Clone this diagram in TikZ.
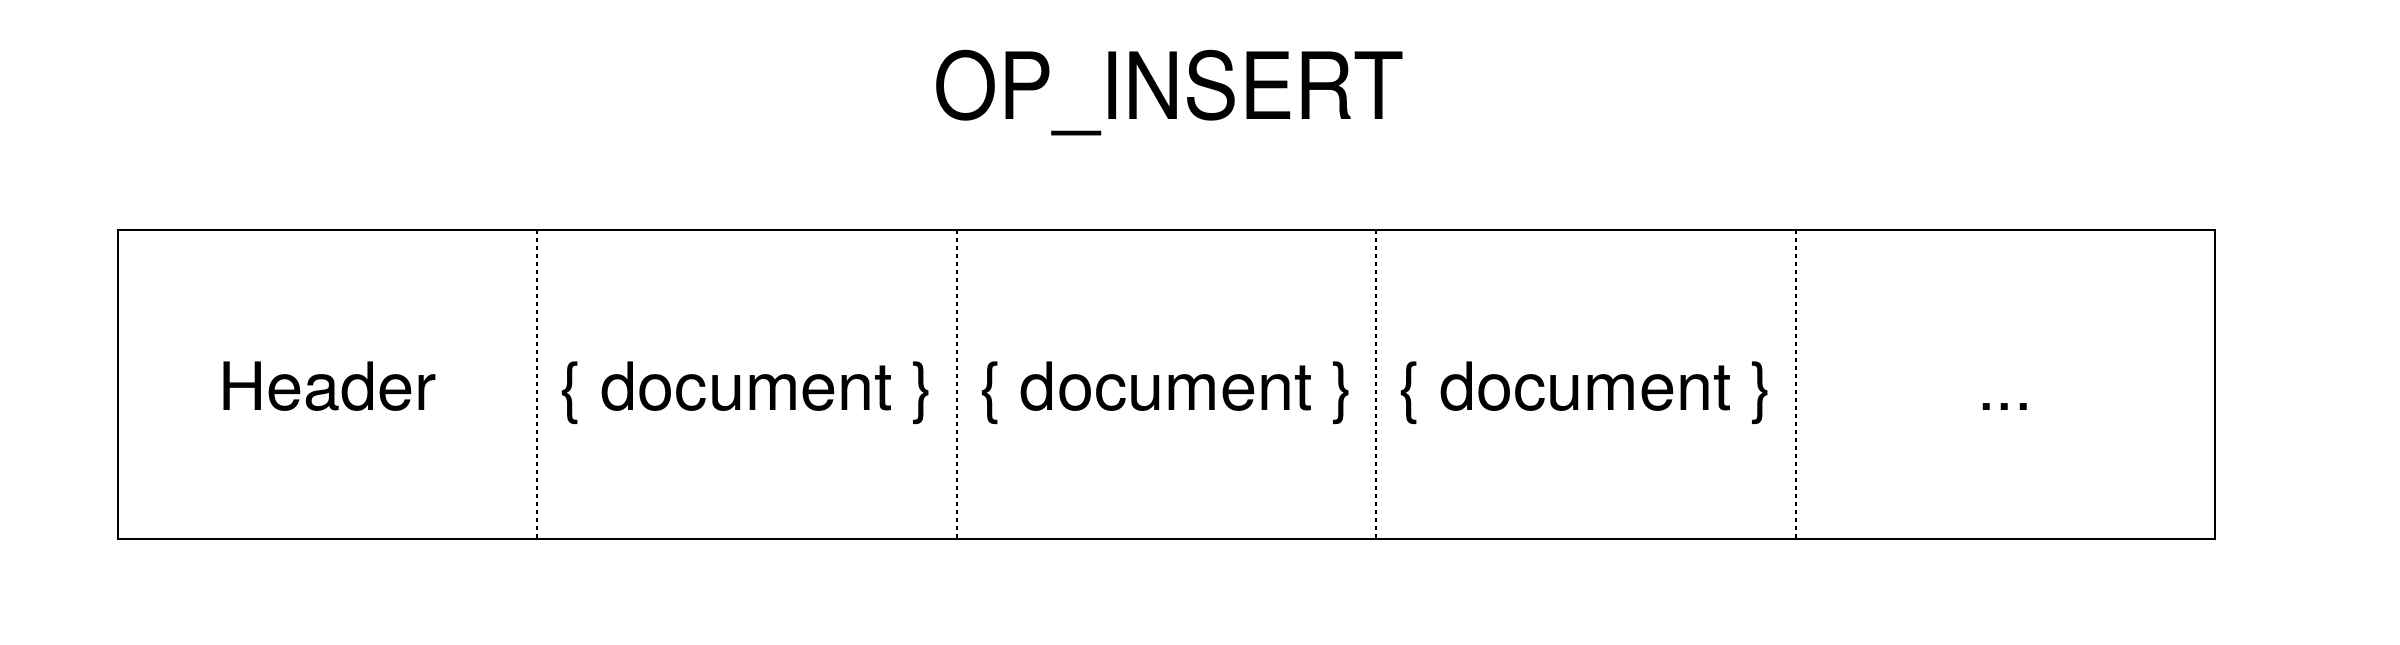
\documentclass[tikz,border=0pt]{standalone}
\usepackage{fontspec}
\setmainfont{TeX Gyre Heros}
\newfontfamily\titlefont[FakeStretch=0.9]{TeX Gyre Heros}
\usetikzlibrary{positioning}

\begin{document}
\begin{tikzpicture}[
  x=1pt, y=1pt,
  cell options/.style = {minimum width=125.82pt, minimum height=92.76pt,
    inner sep=0pt, outer sep=0pt, text height=15.5pt, text depth=0pt,
    font=\fontsize{20}{24}\selectfont},
  frame options/.style = {draw=black, line width=0.6pt},
  divider options/.style = {draw=black, line width=0.6pt, dash pattern=on 1.2pt off 1.2pt},
  ]
  \useasboundingbox (0,0) rectangle (720,193.2);
  \node[anchor=base, font=\titlefont\fontsize{27.8}{32}\selectfont] (title) at (350.6,157.44) {OP\_INSERT};
  \node[cell options, anchor=north west] (cell1) at (35.37,124.32) {Header};
  \foreach \i [evaluate=\i as \prev using int(\i-1)] in {2,3,4} {
    \node[cell options, right=0pt of cell\prev] (cell\i) {\{ document \}};
  }
  \node[cell options, right=0pt of cell4] (cell5) {...};
  \foreach \i in {1,...,4} {
    \draw[divider options] (cell\i.north east) -- (cell\i.south east);
  }
  \draw[frame options] (cell1.north west) rectangle (cell5.south east);
\end{tikzpicture}
\end{document}
